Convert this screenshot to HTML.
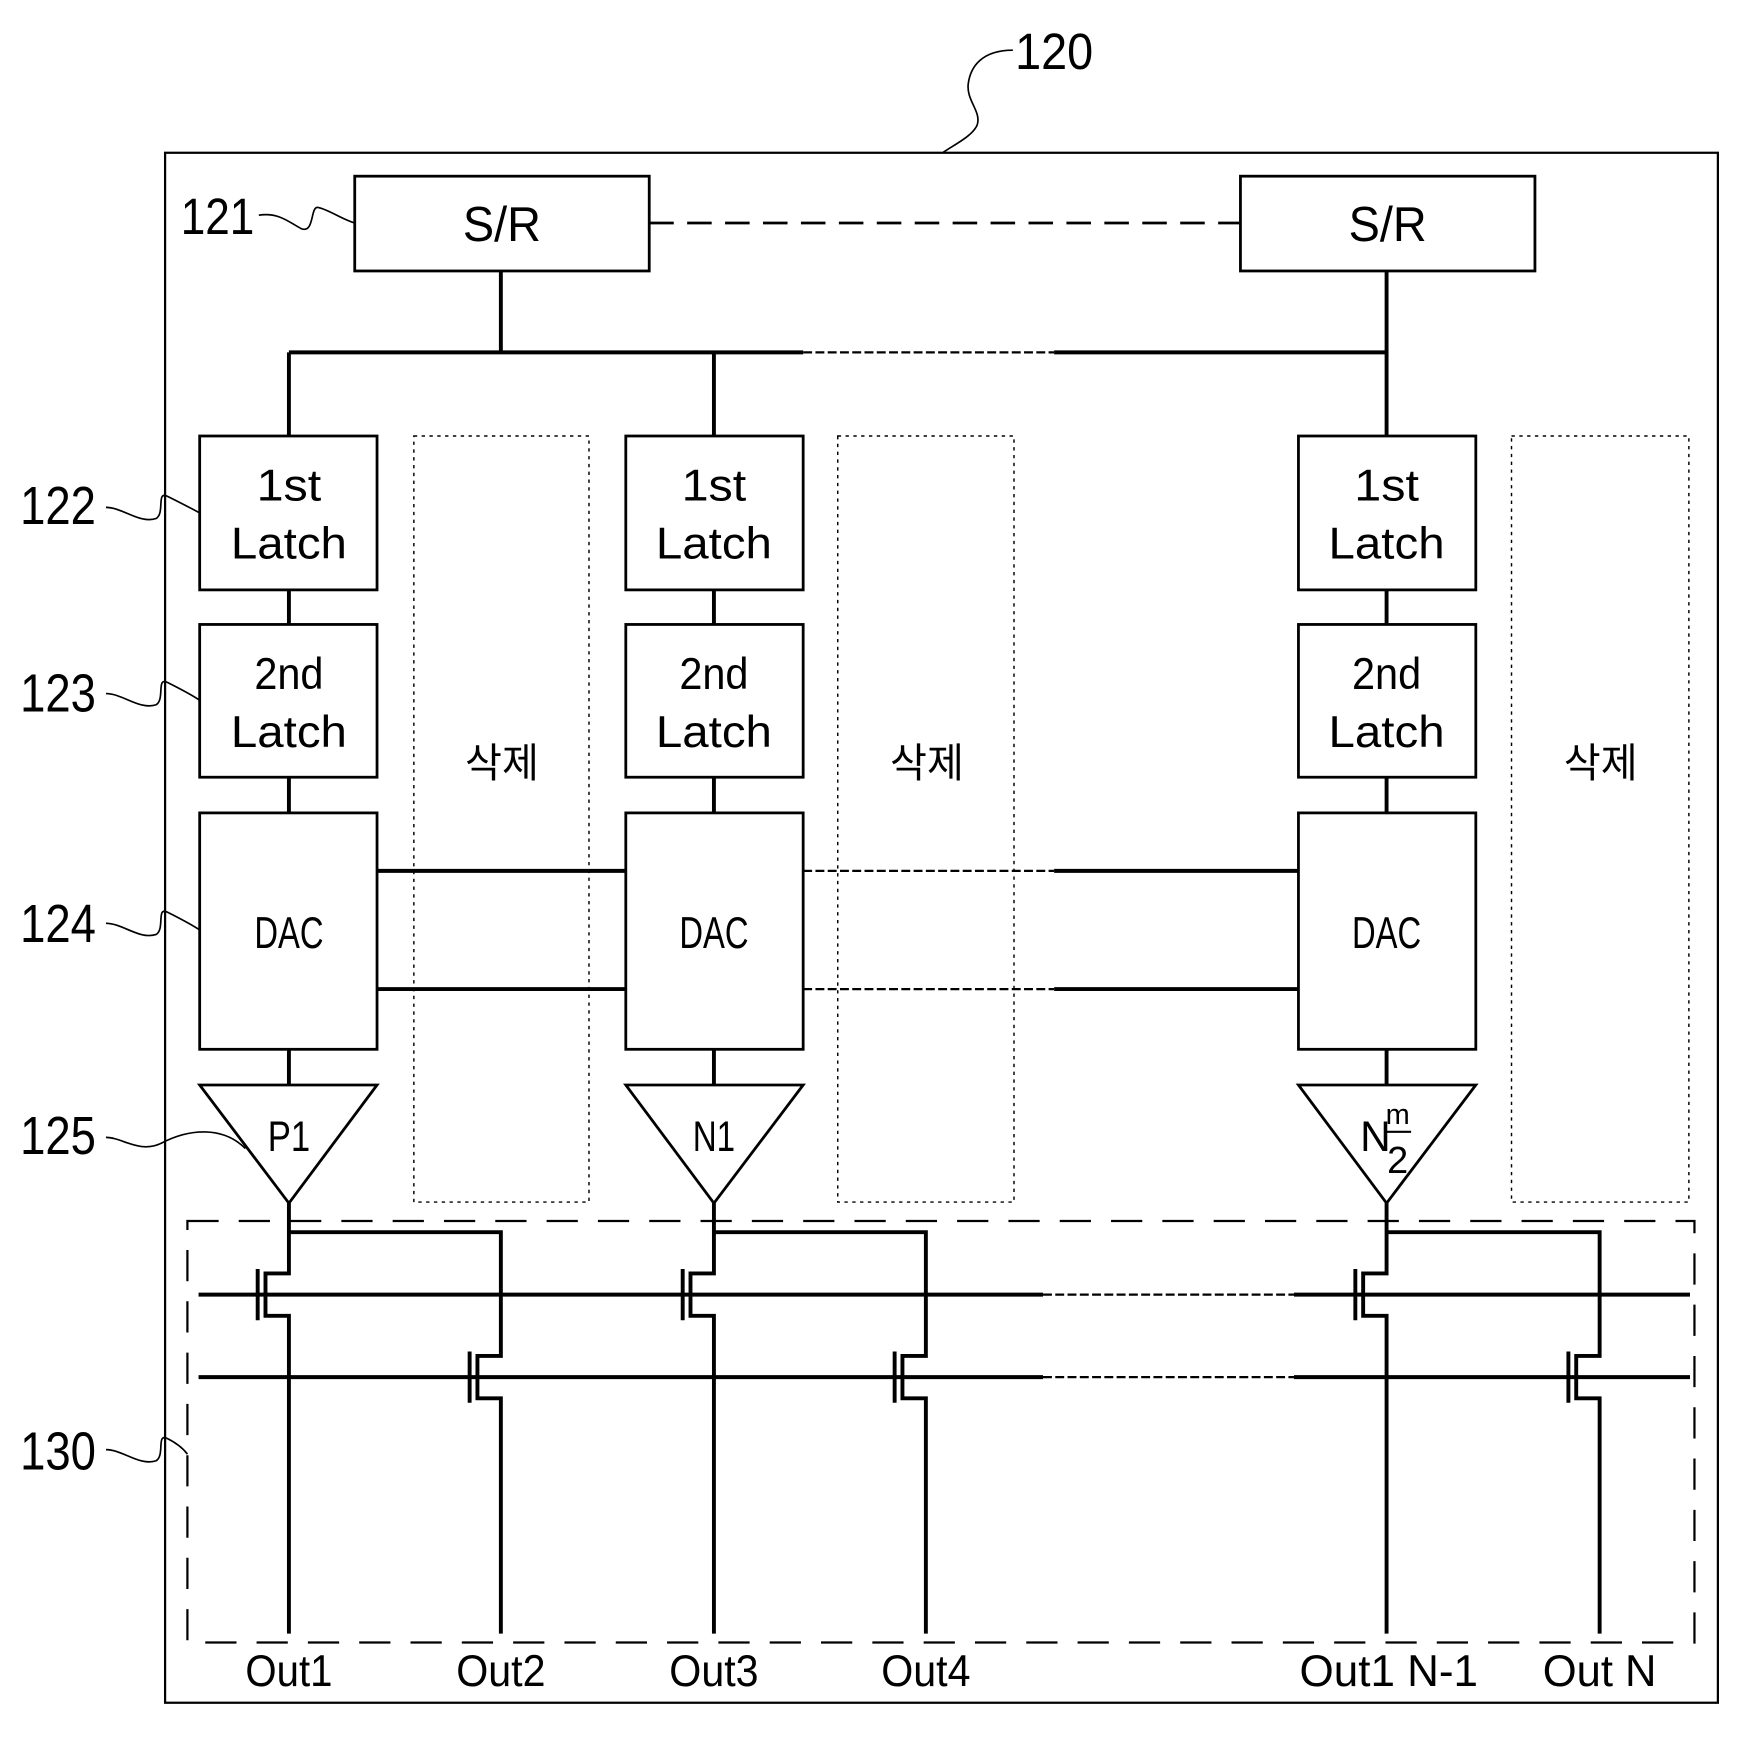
<!DOCTYPE html>
<html><head><meta charset="utf-8"><style>html,body{margin:0;padding:0;background:#fff}svg{display:block}</style></head>
<body>
<svg width="1748" height="1744" viewBox="0 0 1567 1564" preserveAspectRatio="none" xmlns="http://www.w3.org/2000/svg" font-family="Liberation Sans, Noto Sans CJK KR, sans-serif">
<g fill="none" stroke="#000">
<rect x="148" y="137" width="1392" height="1390" stroke-width="2"/>
<path d="M908,45 C880,45 870,60 868,75 C866,90 880,100 876,112 C872,122 855,130 845,137" stroke-width="1.5"/>
<rect x="318" y="158" width="264" height="85" stroke-width="2.5"/>
<rect x="1112" y="158" width="264" height="85" stroke-width="2.5"/>
<line x1="582" y1="200" x2="1112" y2="200" stroke-width="2.5" stroke-dasharray="22,12"/>
<path d="M232,193 C250,190 260,200 270,205 C282,210 278,185 285,186 C295,188 305,196 318,200" stroke-width="1.5"/>
<g stroke-width="3.5">
<line x1="449" y1="243" x2="449" y2="316"/><line x1="1243" y1="243" x2="1243" y2="391"/>
<line x1="259" y1="316" x2="720" y2="316"/><line x1="945" y1="316" x2="1243" y2="316"/>
<line x1="259" y1="316" x2="259" y2="391"/><line x1="640" y1="316" x2="640" y2="391"/>
</g>
<line x1="720" y1="316" x2="945" y2="316" stroke-width="2" stroke-dasharray="8,3"/>
<g stroke-width="2.5">
<rect x="179" y="391" width="159" height="138"/><rect x="179" y="560" width="159" height="137"/><rect x="179" y="729" width="159" height="212"/>
<rect x="561" y="391" width="159" height="138"/><rect x="561" y="560" width="159" height="137"/><rect x="561" y="729" width="159" height="212"/>
<rect x="1164" y="391" width="159" height="138"/><rect x="1164" y="560" width="159" height="137"/><rect x="1164" y="729" width="159" height="212"/>
<path d="M179,973 L338,973 L259,1079 Z"/><path d="M561,973 L720,973 L640,1079 Z"/><path d="M1164,973 L1323,973 L1243,1079 Z"/>
</g>
<g stroke-width="3.5">
<line x1="259" y1="529" x2="259" y2="560"/><line x1="259" y1="697" x2="259" y2="729"/><line x1="259" y1="941" x2="259" y2="973"/>
<line x1="640" y1="529" x2="640" y2="560"/><line x1="640" y1="697" x2="640" y2="729"/><line x1="640" y1="941" x2="640" y2="973"/>
<line x1="1243" y1="529" x2="1243" y2="560"/><line x1="1243" y1="697" x2="1243" y2="729"/><line x1="1243" y1="941" x2="1243" y2="973"/>
<line x1="338" y1="781" x2="561" y2="781"/><line x1="338" y1="887" x2="561" y2="887"/>
<line x1="945" y1="781" x2="1164" y2="781"/><line x1="945" y1="887" x2="1164" y2="887"/>
</g>
<g stroke-width="2" stroke-dasharray="8,3"><line x1="720" y1="781" x2="945" y2="781"/><line x1="720" y1="887" x2="945" y2="887"/></g>
<g stroke-width="1.3" stroke-dasharray="3,4">
<rect x="371" y="391" width="157" height="687"/><rect x="751" y="391" width="158" height="687"/><rect x="1355" y="391" width="159" height="687"/>
</g>
<rect x="168" y="1095" width="1351" height="378" stroke-width="2" stroke-dasharray="28,18"/>
<g stroke-width="1.5">
<path d="M95,455 C110,455 125,470 140,465 C148,460 140,440 150,445 C160,450 170,455 179,460"/>
<path d="M95,622 C110,622 125,637 140,632 C148,627 140,607 150,612 C160,617 170,622 179,628"/>
<path d="M95,828 C110,828 125,843 140,838 C148,833 140,813 150,818 C160,823 170,828 179,834"/>
<path d="M95,1020 C110,1020 125,1035 145,1025 C170,1012 200,1010 220,1030"/>
<path d="M95,1300 C110,1300 125,1315 140,1310 C148,1305 140,1285 150,1290 C160,1295 165,1300 168,1304"/>
</g>
<g stroke-width="3.5">
<path d="M259,1079 V1142 H238 V1180 H259 V1465"/><path d="M259,1105 H449 V1216 H428 V1254 H449 V1465"/>
<path d="M640,1079 V1142 H619 V1180 H640 V1465"/><path d="M640,1105 H830 V1216 H809 V1254 H830 V1465"/>
<path d="M1243,1079 V1142 H1222 V1180 H1243 V1465"/><path d="M1243,1105 H1434 V1216 H1413 V1254 H1434 V1465"/>
<line x1="231" y1="1138" x2="231" y2="1184"/><line x1="612" y1="1138" x2="612" y2="1184"/><line x1="1215" y1="1138" x2="1215" y2="1184"/>
<line x1="421" y1="1212" x2="421" y2="1258"/><line x1="802" y1="1212" x2="802" y2="1258"/><line x1="1406" y1="1212" x2="1406" y2="1258"/>
<line x1="178" y1="1161" x2="935" y2="1161"/><line x1="1160" y1="1161" x2="1515" y2="1161"/>
<line x1="178" y1="1235" x2="935" y2="1235"/><line x1="1160" y1="1235" x2="1515" y2="1235"/>
</g>
<g stroke-width="2" stroke-dasharray="8,3"><line x1="935" y1="1161" x2="1160" y2="1161"/><line x1="935" y1="1235" x2="1160" y2="1235"/></g>
</g>
<g fill="#000" text-anchor="middle" font-size="40" lengthAdjust="spacingAndGlyphs">
<text x="945" y="62" font-size="46" textLength="70" lengthAdjust="spacingAndGlyphs">120</text>
<text x="195" y="210" font-size="46" textLength="66" lengthAdjust="spacingAndGlyphs">121</text>
<text x="52" y="470" font-size="48" textLength="68" lengthAdjust="spacingAndGlyphs">122</text>
<text x="52" y="638" font-size="48" textLength="68" lengthAdjust="spacingAndGlyphs">123</text>
<text x="52" y="845" font-size="48" textLength="68" lengthAdjust="spacingAndGlyphs">124</text>
<text x="52" y="1035" font-size="48" textLength="68" lengthAdjust="spacingAndGlyphs">125</text>
<text x="52" y="1318" font-size="48" textLength="68" lengthAdjust="spacingAndGlyphs">130</text>
<text x="450" y="216" font-size="44" textLength="70" lengthAdjust="spacingAndGlyphs">S/R</text><text x="1244" y="216" font-size="44" textLength="70" lengthAdjust="spacingAndGlyphs">S/R</text>
<text x="259" y="449" textLength="58" lengthAdjust="spacingAndGlyphs">1st</text><text x="259" y="501" textLength="104" lengthAdjust="spacingAndGlyphs">Latch</text>
<text x="640" y="449" textLength="58" lengthAdjust="spacingAndGlyphs">1st</text><text x="640" y="501" textLength="104" lengthAdjust="spacingAndGlyphs">Latch</text>
<text x="1243" y="449" textLength="58" lengthAdjust="spacingAndGlyphs">1st</text><text x="1243" y="501" textLength="104" lengthAdjust="spacingAndGlyphs">Latch</text>
<text x="259" y="618" textLength="62" lengthAdjust="spacingAndGlyphs">2nd</text><text x="259" y="670" textLength="104" lengthAdjust="spacingAndGlyphs">Latch</text>
<text x="640" y="618" textLength="62" lengthAdjust="spacingAndGlyphs">2nd</text><text x="640" y="670" textLength="104" lengthAdjust="spacingAndGlyphs">Latch</text>
<text x="1243" y="618" textLength="62" lengthAdjust="spacingAndGlyphs">2nd</text><text x="1243" y="670" textLength="104" lengthAdjust="spacingAndGlyphs">Latch</text>
<text x="259" y="850" textLength="62" lengthAdjust="spacingAndGlyphs">DAC</text><text x="640" y="850" textLength="62" lengthAdjust="spacingAndGlyphs">DAC</text><text x="1243" y="850" textLength="62" lengthAdjust="spacingAndGlyphs">DAC</text>
<text x="259" y="1032" font-size="38" textLength="38" lengthAdjust="spacingAndGlyphs">P1</text><text x="640" y="1032" font-size="38" textLength="38" lengthAdjust="spacingAndGlyphs">N1</text>
<text x="1233" y="1032" font-size="38">N</text><text x="1253" y="1008" font-size="26">m</text>
<line x1="1241" y1="1015" x2="1265" y2="1015" stroke="#000" stroke-width="2"/>
<text x="1253" y="1052" font-size="34">2</text>
<text x="450" y="697" font-size="36">삭제</text><text x="831" y="697" font-size="36">삭제</text><text x="1435" y="697" font-size="36">삭제</text>
<text x="259" y="1512" textLength="78" lengthAdjust="spacingAndGlyphs">Out1</text><text x="449" y="1512" textLength="80" lengthAdjust="spacingAndGlyphs">Out2</text>
<text x="640" y="1512" textLength="80" lengthAdjust="spacingAndGlyphs">Out3</text><text x="830" y="1512" textLength="80" lengthAdjust="spacingAndGlyphs">Out4</text>
<text x="1245" y="1512" textLength="160" lengthAdjust="spacingAndGlyphs">Out1 N-1</text><text x="1434" y="1512" textLength="102" lengthAdjust="spacingAndGlyphs">Out N</text>
</g>
</svg>
</body></html>
